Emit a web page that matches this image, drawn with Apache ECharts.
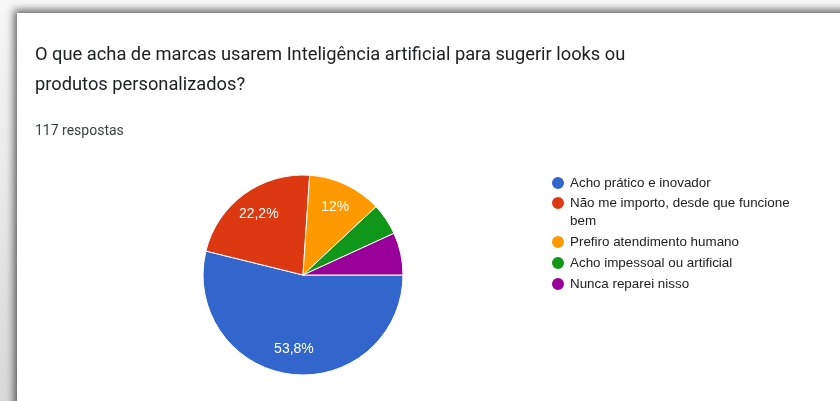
<!DOCTYPE html>
<html>
<head>
<meta charset="utf-8">
<script src="https://cdn.jsdelivr.net/npm/echarts@6/dist/echarts.min.js"></script>
<style>
  html, body { margin: 0; padding: 0; background: #ffffff; overflow: hidden; }
  #wrap { position: relative; width: 840px; height: 401px; overflow: hidden; background: linear-gradient(#f7f7f7, #d9d9d9); }
  #card { position: absolute; left: 17px; top: 13px; width: 900px; height: 500px; background: #ffffff;
          box-shadow: -3px -3px 8px rgba(0,0,0,0.6); }
  #chart { position: absolute; left: 0; top: 0; width: 840px; height: 401px; }
</style>
</head>
<body>
<div id="wrap">
  <div id="card"></div>
  <div id="chart"></div>
</div>
<script>
// Survey question, response count and answers
const questionLines = [
  'O que acha de marcas usarem Inteligência artificial para sugerir looks ou',
  'produtos personalizados?'
];
const responsesText = '117 respostas';
const answers = [
  'Acho prático e inovador',
  'Não me importo, desde que funcione bem',
  'Prefiro atendimento humano',
  'Acho impessoal ou artificial',
  'Nunca reparei nisso'
];
const counts = [63, 26, 14, 6, 8];
const colors = ['#3366cc', '#dc3912', '#ff9900', '#109618', '#990099'];

const total = counts.reduce((a, b) => a + b, 0);

// Percent text in pt-BR style: one decimal, comma separator, trailing ",0" dropped
function pctText(v) {
  let s = (v / total * 100).toFixed(1);
  if (s.endsWith('.0')) s = s.slice(0, -2);
  return s.replace('.', ',') + '%';
}

const pieData = answers.map((name, i) => ({ name: name, value: counts[i] }));

const legendText = {
  fontFamily: 'Liberation Sans, Arial, sans-serif',
  fontSize: 13.4,
  lineHeight: 16,
  color: '#222222'
};
const legendBase = {
  orient: 'vertical',
  left: 550,
  padding: 0,
  icon: 'circle',
  itemWidth: 14,
  itemHeight: 14,
  selectedMode: false
};

const chart = echarts.init(document.getElementById('chart'), null, { renderer: 'canvas' });

chart.setOption({
  backgroundColor: 'transparent',
  animation: false,
  color: colors,
  title: [
    {
      text: questionLines.join('\n'),
      left: 35,
      top: 40,
      padding: 0,
      textStyle: {
        fontFamily: 'Roboto, sans-serif',
        fontSize: 18.3,
        fontWeight: 'normal',
        lineHeight: 30,
        color: '#202124'
      }
    },
    {
      text: responsesText,
      left: 35,
      top: 124,
      padding: 0,
      textStyle: {
        fontFamily: 'Roboto, sans-serif',
        fontSize: 14,
        fontWeight: 'normal',
        lineHeight: 14,
        color: '#3c4043'
      }
    }
  ],
  legend: [
    Object.assign({}, legendBase, {
      top: 175,
      data: [answers[0]],
      textStyle: legendText
    }),
    Object.assign({}, legendBase, {
      // long answer wraps onto a second line; the leading blank line keeps
      // the first text line level with the marker
      top: 176,
      data: [answers[1]],
      formatter: name => '\n' + name,
      textStyle: Object.assign({}, legendText, {
        lineHeight: 18,
        width: 236,
        overflow: 'break'
      })
    }),
    Object.assign({}, legendBase, {
      top: 234,
      itemGap: 5,
      data: answers.slice(2),
      textStyle: legendText
    })
  ],
  series: [
    {
      // the slices
      type: 'pie',
      center: [303, 275],
      radius: [0, 100],
      startAngle: 0,
      clockwise: true,
      silent: true,
      label: { show: false },
      labelLine: { show: false },
      itemStyle: { borderColor: '#ffffff', borderWidth: 1 },
      emphasis: { disabled: true },
      data: pieData
    },
    {
      // percentage labels, placed out toward the rim
      type: 'pie',
      center: [303, 275],
      radius: [44, 100],
      startAngle: 0,
      clockwise: true,
      silent: true,
      itemStyle: { color: 'rgba(0,0,0,0)', borderWidth: 0 },
      emphasis: { disabled: true },
      labelLine: { show: false },
      label: {
        show: true,
        position: 'inside',
        color: '#ffffff',
        fontFamily: 'Liberation Sans, Arial, sans-serif',
        fontSize: 14,
        formatter: p => (p.value / total < 0.1 ? '' : pctText(p.value))
      },
      data: pieData
    }
  ]
});
</script>
</body>
</html>
